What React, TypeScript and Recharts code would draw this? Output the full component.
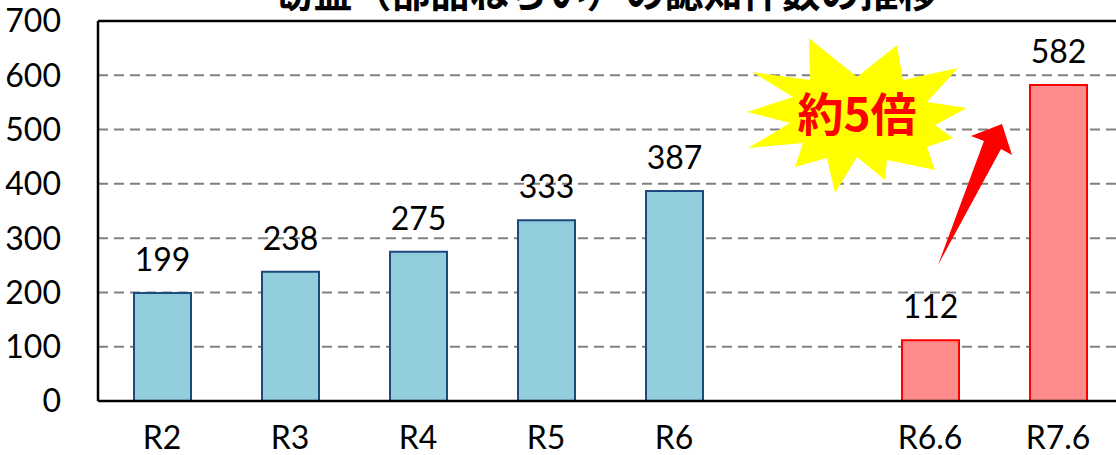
import React from "react";
import {
  BarChart,
  Bar,
  XAxis,
  YAxis,
  CartesianGrid,
  Cell,
  LabelList,
  ReferenceLine,
} from "recharts";

// 年度ごとの認知件数（空欄は R6 と R6.6 の間の区切り）
const categories = ["R2", "R3", "R4", "R5", "R6", "", "R6.6", "R7.6"];
const counts = [199, 238, 275, 333, 387, null, 112, 582];
const highlighted = ["R6.6", "R7.6"];
const yTicks = [0, 100, 200, 300, 400, 500, 600, 700];

const title = "窃盗（部品ねらい）の認知件数の推移";
const callout = "約5倍";

const data = categories.map((name, i) => ({ name, count: counts[i] }));

const font = "Lato, 'Noto Sans', sans-serif";
const jpFont = "'Noto Sans CJK JP', 'Noto Sans', sans-serif";

const starPoints =
  "809,38 857,77 897,45 903,80 958,68 927,102 967,108 935,125 953,138 927,147 935,170 887,160 885,180 857,157 835,193 827,158 795,167 803,143 748,148 790,123 747,112 793,97 752,72 810,80";

const arrowPoints = "938,265 984,141 971,136 1002,124 1012,155 1001,149";

const App: React.FC = () => {
  return (
    <div
      style={{
        position: "absolute",
        left: 0,
        top: 0,
        width: 1116,
        height: 455,
        overflow: "hidden",
        background: "#fff",
      }}
    >
      <BarChart
        width={1124}
        height={455}
        data={data}
        margin={{ top: 21, right: 2, bottom: 0, left: 0 }}
      >
        <CartesianGrid
          vertical={false}
          stroke="#808080"
          strokeWidth={2}
          strokeDasharray="10 6"
        />
        <ReferenceLine y={700} stroke="#000" strokeWidth={2.5} />
        <XAxis
          dataKey="name"
          height={54}
          tickLine={false}
          tickSize={0}
          tickMargin={25}
          axisLine={{ stroke: "#000", strokeWidth: 2.5 }}
          tick={{ fill: "#000", fontSize: 32, fontFamily: font }}
          interval={0}
        />
        <YAxis
          width={98}
          domain={[0, 700]}
          ticks={yTicks}
          tickLine={false}
          tickSize={0}
          tickMargin={37}
          axisLine={{ stroke: "#000", strokeWidth: 2.5 }}
          tick={{ fill: "#000", fontSize: 32, fontFamily: font }}
        />
        <Bar dataKey="count" barSize={57} strokeWidth={2} isAnimationActive={false}>
          {data.map((d) => {
            const hot = highlighted.includes(d.name);
            return (
              <Cell
                key={d.name || "gap"}
                fill={hot ? "#FF8B8B" : "#92CDDC"}
                stroke={hot ? "#FF0000" : "#1F497D"}
              />
            );
          })}
          <LabelList
            dataKey="count"
            position="top"
            offset={22}
            fill="#000"
            fontSize={32}
            fontFamily={font}
            formatter={(v: any) => (v == null ? "" : v)}
          />
        </Bar>
      </BarChart>
      <svg
        width={1116}
        height={455}
        style={{ position: "absolute", left: 0, top: 0, pointerEvents: "none" }}
      >
        <text
          x={606}
          y={7}
          textAnchor="middle"
          fontFamily={jpFont}
          fontWeight="bold"
          fontSize={39}
          fill="#000"
        >
          {title}
        </text>
        <polygon points={starPoints} fill="#FFFF00" />
        <text
          x={857}
          y={131}
          textAnchor="middle"
          fontFamily={jpFont}
          fontWeight="bold"
          fontSize={46}
          fill="#FF0000"
        >
          {callout}
        </text>
        <polygon points={arrowPoints} fill="#FF0000" />
      </svg>
    </div>
  );
};

export default App;
